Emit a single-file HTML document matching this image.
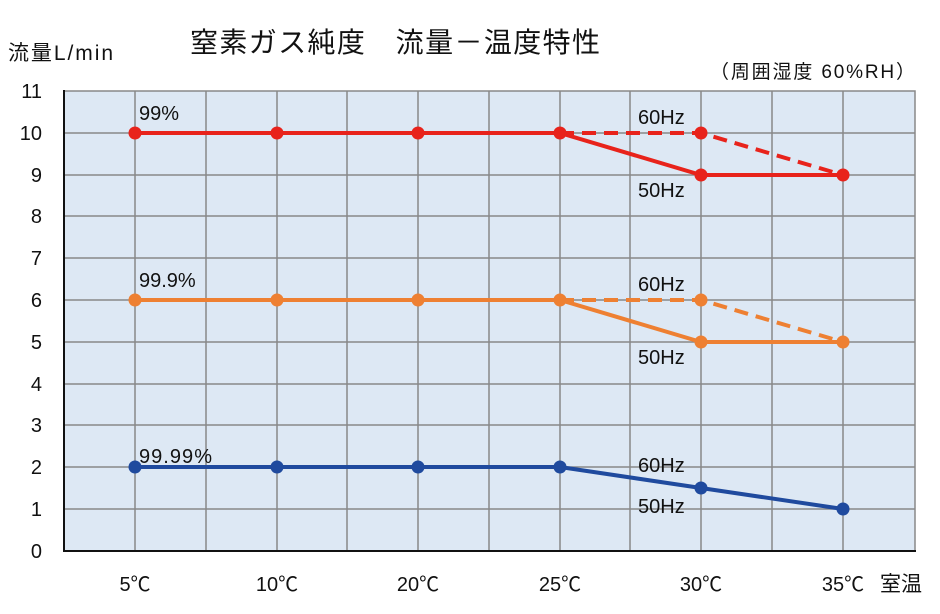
<!DOCTYPE html>
<html><head><meta charset="utf-8"><style>body{margin:0;background:#fff}svg{display:block}text{font-family:"Liberation Sans","Noto Sans CJK JP",sans-serif;fill:#111}</style></head><body>
<svg width="940" height="614" xmlns="http://www.w3.org/2000/svg">
<rect x="64" y="91" width="851" height="460" fill="#dde8f4" stroke="#888" stroke-width="1.5"/>
<g stroke="#888" stroke-width="1.5">
<line x1="135" y1="91" x2="135" y2="551"/><line x1="206" y1="91" x2="206" y2="551"/><line x1="277" y1="91" x2="277" y2="551"/><line x1="347" y1="91" x2="347" y2="551"/><line x1="418" y1="91" x2="418" y2="551"/><line x1="489" y1="91" x2="489" y2="551"/><line x1="560" y1="91" x2="560" y2="551"/><line x1="630" y1="91" x2="630" y2="551"/><line x1="701" y1="91" x2="701" y2="551"/><line x1="772" y1="91" x2="772" y2="551"/><line x1="843" y1="91" x2="843" y2="551"/>
<line x1="64" y1="133" x2="915" y2="133"/><line x1="64" y1="175" x2="915" y2="175"/><line x1="64" y1="216" x2="915" y2="216"/><line x1="64" y1="258" x2="915" y2="258"/><line x1="64" y1="300" x2="915" y2="300"/><line x1="64" y1="342" x2="915" y2="342"/><line x1="64" y1="384" x2="915" y2="384"/><line x1="64" y1="425" x2="915" y2="425"/><line x1="64" y1="467" x2="915" y2="467"/><line x1="64" y1="509" x2="915" y2="509"/>
</g>
<line x1="64" y1="90" x2="64" y2="552" stroke="#111" stroke-width="2"/>
<line x1="63" y1="551" x2="916" y2="551" stroke="#111" stroke-width="2"/>
<g font-size="20" text-anchor="end"><text x="42" y="98">11</text><text x="42" y="140">10</text><text x="42" y="182">9</text><text x="42" y="223">8</text><text x="42" y="265">7</text><text x="42" y="307">6</text><text x="42" y="349">5</text><text x="42" y="391">4</text><text x="42" y="432">3</text><text x="42" y="474">2</text><text x="42" y="516">1</text><text x="42" y="558">0</text></g>
<g font-size="20" text-anchor="middle"><text x="135" y="591">5℃</text><text x="277" y="591">10℃</text><text x="418" y="591">20℃</text><text x="560" y="591">25℃</text><text x="701" y="591">30℃</text><text x="843" y="591">35℃</text></g>
<text x="880" y="591" font-size="21">室温</text>
<text x="8" y="60" font-size="21" textLength="105">流量L/min</text>
<text x="190" y="52" font-size="28" textLength="410">窒素ガス純度　流量－温度特性</text>
<text x="710" y="78" font-size="19" textLength="205">（周囲湿度 60%RH）</text>
<g fill="none" stroke-width="4">
<polyline points="560,133 701,133 843,175" stroke="#e8231b" stroke-dasharray="14,8"/>
<polyline points="135,133 560,133 701,175 843,175" stroke="#e8231b"/>
<polyline points="560,300 701,300 843,342" stroke="#ee8032" stroke-dasharray="14,8"/>
<polyline points="135,300 560,300 701,342 843,342" stroke="#ee8032"/>
<polyline points="135,467 560,467 701,488 843,509" stroke="#1f4a9e"/>
</g>
<g fill="#e8231b"><circle cx="135" cy="133" r="6.5"/><circle cx="277" cy="133" r="6.5"/><circle cx="418" cy="133" r="6.5"/><circle cx="560" cy="133" r="6.5"/><circle cx="701" cy="133" r="6.5"/><circle cx="701" cy="175" r="6.5"/><circle cx="843" cy="175" r="6.5"/></g>
<g fill="#ee8032"><circle cx="135" cy="300" r="6.5"/><circle cx="277" cy="300" r="6.5"/><circle cx="418" cy="300" r="6.5"/><circle cx="560" cy="300" r="6.5"/><circle cx="701" cy="300" r="6.5"/><circle cx="701" cy="342" r="6.5"/><circle cx="843" cy="342" r="6.5"/></g>
<g fill="#1f4a9e"><circle cx="135" cy="467" r="6.5"/><circle cx="277" cy="467" r="6.5"/><circle cx="418" cy="467" r="6.5"/><circle cx="560" cy="467" r="6.5"/><circle cx="701" cy="488" r="6.5"/><circle cx="843" cy="509" r="6.5"/></g>
<g font-size="20"><text x="139" y="120">99%</text><text x="139" y="287">99.9%</text><text x="139" y="463" textLength="73">99.99%</text>
<text x="638" y="124">60Hz</text><text x="638" y="197">50Hz</text><text x="638" y="291">60Hz</text><text x="638" y="364">50Hz</text><text x="638" y="472">60Hz</text><text x="638" y="513">50Hz</text></g>
</svg>
</body></html>
